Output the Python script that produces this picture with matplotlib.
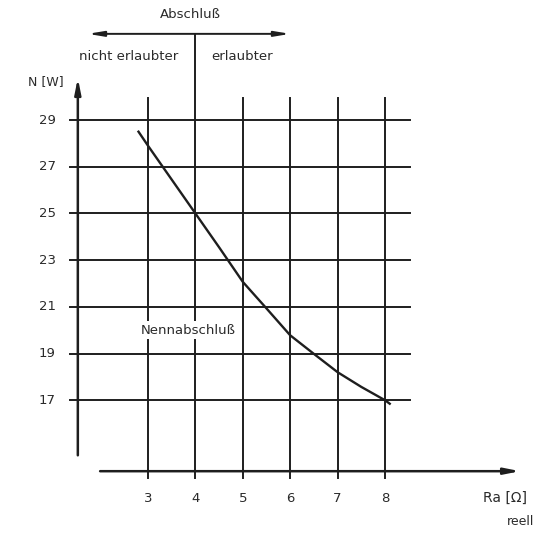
import matplotlib
matplotlib.use("Agg")
import matplotlib.pyplot as plt

# Kennlinie N(Ra)
ra = [2.8, 3.0, 3.5, 4.0, 4.5, 5.0, 5.25, 5.47, 6.0, 6.49, 7.0, 7.5, 8.0, 8.1]
n = [28.5, 27.9, 26.45, 25.0, 23.55, 22.07, 21.5, 21.0, 19.78, 19.0, 18.2, 17.57, 17.0, 16.85]

x_ticks = [3, 4, 5, 6, 7, 8]
y_ticks = [17, 19, 21, 23, 25, 27, 29]

ink = "#1e1e1e"
txt = "#2a2a2a"

fig = plt.figure(figsize=(5.37, 5.34), dpi=100)
ax = fig.add_axes([0, 0, 1, 1])
ax.set_xlim(-0.122, 11.207)
ax.set_ylim(11.27, 34.14)
ax.axis("off")

# Gitter
for y in y_ticks:
    ax.plot([1.35, 8.53], [y, y], color=ink, lw=1.4, zorder=1)
    ax.text(1.05, y, str(y), ha="right", va="center", fontsize=9.5, color=txt)
for x in x_ticks:
    top = 32.69 if x == 4 else 29.94
    ax.plot([x, x], [13.66, top], color=ink, lw=1.4, zorder=1)
    ax.text(x, 12.8, str(x), ha="center", va="center", fontsize=9.5, color=txt)

# Achsen
ax.annotate("", xy=(1.52, 30.8), xytext=(1.52, 14.64),
            arrowprops=dict(arrowstyle="-|>,head_length=0.9,head_width=0.18",
                            lw=1.8, color=ink, shrinkA=0, shrinkB=0))
ax.annotate("", xy=(10.85, 13.96), xytext=(1.99, 13.96),
            arrowprops=dict(arrowstyle="-|>,head_length=0.9,head_width=0.18",
                            lw=1.8, color=ink, shrinkA=0, shrinkB=0))

# Abschluss-Pfeil oben
ax.annotate("", xy=(1.73, 32.69), xytext=(6.0, 32.69),
            arrowprops=dict(arrowstyle="<|-|>,head_length=0.9,head_width=0.15",
                            lw=1.4, color=ink, shrinkA=0, shrinkB=0))

# Kurve
ax.plot(ra, n, color=ink, lw=1.7, zorder=3)

# Beschriftungen
ax.text(3.9, 33.5, "Abschluß", ha="center", va="center", fontsize=9.5, color=txt)
ax.text(2.6, 31.72, "nicht erlaubter", ha="center", va="center", fontsize=9.5, color=txt)
ax.text(4.98, 31.72, "erlaubter", ha="center", va="center", fontsize=9.5, color=txt)
ax.text(0.85, 30.63, "N [W]", ha="center", va="center", fontsize=9, color=txt)
ax.text(3.85, 20.0, "Nennabschluß", ha="center", va="center", fontsize=9.5, color=txt,
        bbox=dict(facecolor="white", edgecolor="none", pad=2), zorder=4)
ax.text(10.54, 12.8, "Ra [Ω]", ha="center", va="center", fontsize=10, color=txt)
ax.text(11.15, 11.8, "reell", ha="right", va="center", fontsize=9, color=txt)

fig.savefig("out.png", dpi=100)
